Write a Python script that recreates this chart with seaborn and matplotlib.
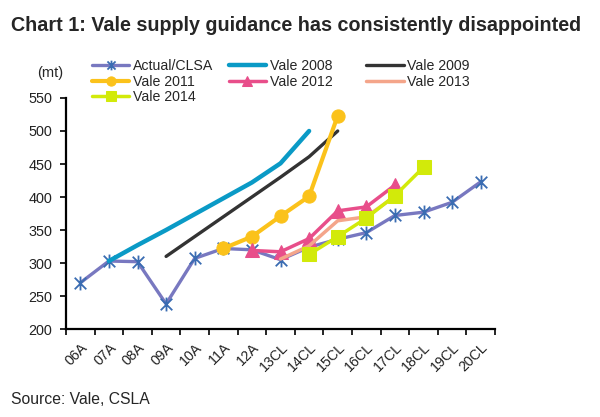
import numpy as np
import pandas as pd
import seaborn as sns
import matplotlib.pyplot as plt
from matplotlib.path import Path

sns.set_style("white")
plt.rcParams['font.family'] = ['Liberation Sans', 'DejaVu Sans']

# x categories
years = ['06A', '07A', '08A', '09A', '10A', '11A', '12A', '13CL',
         '14CL', '15CL', '16CL', '17CL', '18CL', '19CL', '20CL']
nan = np.nan

actual = [270, 303, 302, 238, 307, 322, 320, 305, 324, 336, 346, 372, 377, 392, 423]
vale_2008 = [nan, 303, 327, 350, 374, 398, 422, 451, 500, nan, nan, nan, nan, nan, nan]
vale_2009 = [nan, nan, nan, 310, 340, 370, 400, 430, 461, 500, nan, nan, nan, nan, nan]
vale_2011 = [nan, nan, nan, nan, nan, 322, 340, 371, 401, 523, nan, nan, nan, nan, nan]
vale_2012 = [nan, nan, nan, nan, nan, nan, 319, 317, 337, 379, 385, 418, nan, nan, nan]
vale_2013 = [nan, nan, nan, nan, nan, nan, nan, 306, 326, 364, 370, 401, nan, nan, nan]
vale_2014 = [nan, nan, nan, nan, nan, nan, nan, nan, 313, 340, 368, 402, 445, nan, nan]

idx = np.arange(len(years))

# excel style star: an X with a vertical bar
star = Path([(-1, -1), (1, 1), (-1, 1), (1, -1), (0, -1.2), (0, 1.2)],
            [Path.MOVETO, Path.LINETO, Path.MOVETO, Path.LINETO,
             Path.MOVETO, Path.LINETO])

fig = plt.figure(figsize=(6, 4.17), dpi=100)
ax = fig.add_axes([0.110, 0.211, 0.715, 0.554])

sns.lineplot(x=idx, y=actual, ax=ax, color='#7878C0', linewidth=2.4,
             marker=star, markersize=10, markeredgecolor='#3A6CB2',
             markeredgewidth=1.3, label='Actual/CLSA')
sns.lineplot(x=idx, y=vale_2008, ax=ax, color='#0A9AC6', linewidth=3.2,
             label='Vale 2008')
sns.lineplot(x=idx, y=vale_2009, ax=ax, color='#333333', linewidth=2.4,
             label='Vale 2009')
sns.lineplot(x=idx, y=vale_2011, ax=ax, color='#FBC21B', linewidth=3,
             marker='o', markersize=9.5, markeredgecolor='#FBC21B',
             label='Vale 2011')
sns.lineplot(x=idx, y=vale_2012, ax=ax, color='#E84E8A', linewidth=2.5,
             marker='^', markersize=9.5, markeredgecolor='#E84E8A',
             label='Vale 2012')
sns.lineplot(x=idx, y=vale_2013, ax=ax, color='#F4A58A', linewidth=2.5,
             label='Vale 2013')
sns.lineplot(x=idx, y=vale_2014, ax=ax, color='#D2EA0A', linewidth=2.5,
             marker='s', markersize=9.5, markeredgecolor='#D2EA0A',
             label='Vale 2014')

ax.set_xlim(-0.5, len(years) - 0.5)
ax.set_ylim(200, 550)
ax.set_yticks(range(200, 551, 50))
ax.set_xticks(idx)
ax.set_xticklabels(years, rotation=45, ha='right', rotation_mode='anchor')
ax.set_xticks(np.arange(-0.5, len(years)), minor=True)
ax.tick_params(axis='x', which='major', length=0, pad=8, labelsize=10.2)
ax.tick_params(axis='x', which='minor', length=4, width=1.2, color='black',
               direction='out', bottom=True)
ax.tick_params(axis='y', length=4, width=1.2, color='black', direction='out',
               left=True, labelsize=10.4, pad=6, labelcolor='#222222')
ax.tick_params(axis='x', labelcolor='#222222')
ax.set_xlabel('')
ax.set_ylabel('')
sns.despine(ax=ax)
for s in ['left', 'bottom']:
    ax.spines[s].set_color('black')
    ax.spines[s].set_linewidth(1.6)

# legend: excel lays out fixed-width columns, so one legend per column
h, l = ax.get_legend_handles_labels()
ax.get_legend().remove()
columns = [[0, 3, 6], [1, 4], [2, 5]]
col_x = [0.153, 0.381, 0.610]
for cols, x in zip(columns, col_x):
    fig.legend([h[i] for i in cols], [l[i] for i in cols], loc='upper left',
               bbox_to_anchor=(x, 0.858), bbox_transform=fig.transFigure,
               frameon=False, fontsize=10.2, handlelength=2.65,
               handletextpad=0.25, labelspacing=0.1, borderaxespad=0,
               borderpad=0, markerscale=0.7)

fig.text(0.018, 0.938, 'Chart 1: Vale supply guidance has consistently disappointed',
         fontsize=14.2, fontweight='bold', va='center')
fig.text(50 / 600, 1 - 73 / 417, '(mt)', fontsize=10.5, va='center', ha='center')
fig.text(0.019, 1 - 400 / 417, 'Source: Vale, CSLA', fontsize=11.3, va='center')

plt.savefig('out.png', dpi=100)
